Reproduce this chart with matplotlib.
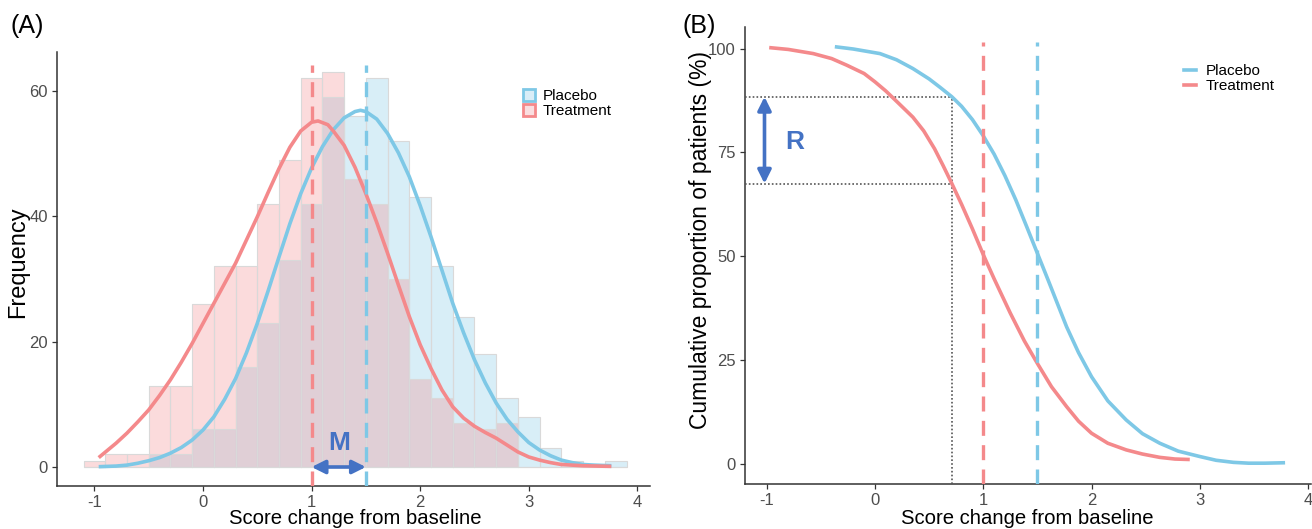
import matplotlib
matplotlib.use("Agg")
import matplotlib.pyplot as plt
from matplotlib.patches import Patch
from matplotlib.lines import Line2D
import numpy as np

plt.rcParams['font.family'] = ['Liberation Sans', 'DejaVu Sans']
plt.rcParams['axes.unicode_minus'] = False

# ---------------- data ----------------
bin_left = [-1.1, -0.9, -0.7, -0.5, -0.3, -0.1, 0.1, 0.3, 0.5, 0.7, 0.9, 1.1, 1.3,
            1.5, 1.7, 1.9, 2.1, 2.3, 2.5, 2.7, 2.9, 3.1, 3.3, 3.5, 3.7]
bin_width = 0.2
placebo_counts = [0, 0, 0, 2, 2, 6, 6, 16, 23, 33, 42, 59, 56,
                  62, 52, 43, 32, 24, 18, 11, 8, 3, 1, 0, 1]
treatment_counts = [1, 2, 2, 13, 13, 26, 32, 32, 42, 49, 62, 63, 46,
                    42, 30, 14, 11, 7, 6, 7, 0, 0, 0, 0, 0]

# density curves (scaled to counts)
kde_x_treat = [-0.96, -0.8, -0.7, -0.6, -0.5, -0.4, -0.3, -0.2, -0.1, 0.0, 0.1, 0.2,
               0.3, 0.4, 0.5, 0.6, 0.7, 0.8, 0.9, 1.0, 1.06, 1.15, 1.2, 1.3, 1.4,
               1.5, 1.6, 1.7, 1.8, 1.9, 2.0, 2.1, 2.2, 2.3, 2.4, 2.5, 2.6, 2.7,
               2.8, 2.9, 3.0, 3.1, 3.2, 3.3, 3.5, 3.76]
kde_y_treat = [1.5, 3.8, 5.4, 7.2, 9.1, 11.4, 13.9, 16.7, 19.7, 22.9, 26.1, 29.3,
               32.5, 36.2, 39.9, 43.8, 47.6, 51.0, 53.6, 55.0, 55.2, 54.6, 53.6,
               51.3, 47.8, 43.6, 39.0, 34.1, 29.0, 24.0, 19.5, 15.7, 12.3, 9.6,
               7.8, 6.5, 5.5, 4.6, 3.5, 2.4, 1.6, 1.1, 0.7, 0.4, 0.2, 0.1]
kde_x_plac = [-0.96, -0.8, -0.7, -0.6, -0.5, -0.4, -0.3, -0.2, -0.1, 0.0, 0.1, 0.2,
              0.3, 0.4, 0.5, 0.6, 0.7, 0.8, 0.9, 1.0, 1.1, 1.2, 1.3, 1.4, 1.45,
              1.5, 1.6, 1.7, 1.8, 1.9, 2.0, 2.1, 2.2, 2.3, 2.4, 2.5, 2.6, 2.7,
              2.8, 2.9, 3.0, 3.1, 3.2, 3.3, 3.4, 3.5, 3.6, 3.76]
kde_y_plac = [0.05, 0.15, 0.3, 0.6, 1.0, 1.5, 2.2, 3.1, 4.3, 5.9, 8.0, 10.8,
              14.1, 18.2, 22.9, 28.1, 33.5, 38.8, 43.6, 47.7, 51.1, 53.8, 55.7,
              56.7, 56.9, 56.7, 55.5, 53.2, 50.1, 46.3, 41.7, 36.7, 31.4, 26.1,
              21.4, 17.1, 13.4, 10.2, 7.6, 5.6, 3.9, 2.7, 1.8, 1.1, 0.7, 0.4,
              0.3, 0.2]

# cumulative proportion curves (% of patients with score >= x)
cum_x_treat = [-0.96, -0.8, -0.57, -0.4, -0.26, -0.1, 0.0, 0.1, 0.2, 0.35, 0.45,
               0.55, 0.63, 0.71, 0.8, 0.9, 1.0, 1.1, 1.25, 1.38, 1.5, 1.63, 1.77,
               1.88, 2.0, 2.15, 2.32, 2.47, 2.63, 2.77, 2.89]
cum_y_treat = [100.2, 99.8, 98.8, 97.6, 96.0, 94.0, 92.0, 89.8, 87.3, 83.5, 80.2,
               75.9, 71.8, 67.5, 62.5, 56.6, 50.4, 44.6, 36.3, 29.6, 24.2, 18.6,
               13.8, 10.3, 7.4, 5.0, 3.4, 2.4, 1.6, 1.2, 1.1]
cum_x_plac = [-0.354, -0.2, 0.046, 0.2, 0.35, 0.5, 0.6, 0.71, 0.8, 0.9, 1.0, 1.1,
              1.2, 1.3, 1.4, 1.5, 1.6, 1.7, 1.77, 1.88, 2.0, 2.15, 2.32, 2.47,
              2.63, 2.8, 3.0, 3.15, 3.31, 3.45, 3.6, 3.77]
cum_y_plac = [100.4, 99.9, 98.8, 97.3, 95.2, 92.7, 90.7, 88.4, 86.1, 82.9, 79.0,
              74.6, 69.4, 63.6, 57.2, 50.7, 44.2, 37.6, 33.0, 26.8, 21.0, 15.2,
              10.6, 7.3, 5.0, 3.1, 1.8, 0.9, 0.4, 0.2, 0.2, 0.3]

median_treat = 1.0
median_plac = 1.5
r_x = 0.71
r_upper = 88.4
r_lower = 67.5

groups = ['Placebo', 'Treatment']
col_plac = '#7EC8E6'
col_treat = '#F4898B'
arrow_col = '#4472C4'
tick_col = '#4D4D4D'

# ---------------- figure ----------------
fig = plt.figure(figsize=(13.12, 5.29), dpi=100)
W, H = 1312, 529

def rect(l, r, b, t):
    return [l / W, 1 - b / H, (r - l) / W, (b - t) / H]

axA = fig.add_axes(rect(57, 650, 486, 52))
axB = fig.add_axes(rect(745, 1311, 484, 27))

for ax in (axA, axB):
    for s in ('top', 'right'):
        ax.spines[s].set_visible(False)
    for s in ('left', 'bottom'):
        ax.spines[s].set_color('#333333')
        ax.spines[s].set_linewidth(1.1)
    ax.tick_params(colors='#333333', labelcolor=tick_col, labelsize=12,
                   length=3.5, width=0.9, pad=3)

# ---- panel A ----
edges = np.array(bin_left)
axA.bar(edges, placebo_counts, width=bin_width, align='edge',
        color=col_plac, alpha=0.3, edgecolor='none', zorder=1)
axA.bar(edges, treatment_counts, width=bin_width, align='edge',
        color=col_treat, alpha=0.3, edgecolor='none', zorder=2)
axA.bar(edges, placebo_counts, width=bin_width, align='edge',
        fill=False, edgecolor='#D9D9D9', linewidth=0.8, zorder=3)
axA.bar(edges, treatment_counts, width=bin_width, align='edge',
        fill=False, edgecolor='#D9D9D9', linewidth=0.8, zorder=3)

axA.plot(kde_x_plac, kde_y_plac, color=col_plac, lw=2.6, zorder=5,
         solid_capstyle='butt', solid_joinstyle='round')
axA.plot(kde_x_treat, kde_y_treat, color=col_treat, lw=2.6, zorder=5,
         solid_capstyle='butt', solid_joinstyle='round')

axA.set_xlim(-1.344, 4.116)
axA.set_ylim(-3.03, 66.2)
axA.vlines([median_treat], -3.03, 64.2, colors=col_treat, lw=2.4,
           linestyles=(0, (4.5, 2.8)), zorder=6)
axA.vlines([median_plac], -3.03, 64.2, colors=col_plac, lw=2.4,
           linestyles=(0, (4.5, 2.8)), zorder=6)
axA.set_xticks([-1, 0, 1, 2, 3, 4])
axA.set_yticks([0, 20, 40, 60])

axA.annotate('', xy=(median_treat, 0), xytext=(median_plac, 0),
             arrowprops=dict(arrowstyle='<|-|>', color=arrow_col, lw=2.6,
                             mutation_scale=20, shrinkA=0, shrinkB=0), zorder=7)
axA.text((median_treat + median_plac) / 2, 3.8, 'M', color=arrow_col,
         fontsize=19, fontweight='bold', ha='center', va='center', zorder=7)

legA = [Patch(facecolor=(0.85, 0.93, 0.97), edgecolor=col_plac, lw=2, label=groups[0]),
        Patch(facecolor=(0.98, 0.87, 0.88), edgecolor=col_treat, lw=2, label=groups[1])]
axA.legend(handles=legA, loc='upper left', bbox_to_anchor=(0.785, 0.915),
           frameon=False, fontsize=11, handlelength=0.85, handleheight=0.85,
           handletextpad=0.45, labelspacing=0.05, borderpad=0, borderaxespad=0)

# ---- panel B ----
axB.plot(cum_x_plac, cum_y_plac, color=col_plac, lw=2.6, zorder=5,
         solid_joinstyle='round')
axB.plot(cum_x_treat, cum_y_treat, color=col_treat, lw=2.6, zorder=5,
         solid_joinstyle='round')
axB.set_xlim(-1.20, 4.026)
axB.set_ylim(-4.81, 105.2)
axB.vlines([median_treat], -4.81, 101.6, colors=col_treat, lw=2.4,
           linestyles=(0, (4.5, 2.8)), zorder=6)
axB.vlines([median_plac], -4.81, 101.6, colors=col_plac, lw=2.4,
           linestyles=(0, (4.5, 2.8)), zorder=6)
axB.hlines([r_upper, r_lower], -1.20, r_x, colors='#555555', lw=1.2,
           linestyles=(0, (1, 1.3)), zorder=4)
axB.vlines([r_x], -4.81, r_upper, colors='#555555', lw=1.2,
           linestyles=(0, (1, 1.3)), zorder=4)
axB.set_xticks([-1, 0, 1, 2, 3, 4])
axB.set_yticks([0, 25, 50, 75, 100])

axB.annotate('', xy=(-1.02, r_upper), xytext=(-1.02, r_lower),
             arrowprops=dict(arrowstyle='<|-|>', color=arrow_col, lw=2.6,
                             mutation_scale=20, shrinkA=0, shrinkB=0), zorder=7)
axB.text(-0.74, 77.5, 'R', color=arrow_col, fontsize=19, fontweight='bold',
         ha='center', va='center', zorder=7)

legB = [Line2D([0], [0], color=col_plac, lw=2.6, label=groups[0]),
        Line2D([0], [0], color=col_treat, lw=2.6, label=groups[1])]
axB.legend(handles=legB, loc='upper left', bbox_to_anchor=(0.776, 0.918),
           frameon=False, fontsize=11, handlelength=0.8,
           handletextpad=0.6, labelspacing=0.05, borderpad=0, borderaxespad=0)

# ---- labels ----
fig.text(355 / W, 1 - 518 / H, 'Score change from baseline', ha='center',
         va='center', fontsize=14.6, color='black')
fig.text(1027 / W, 1 - 518 / H, 'Score change from baseline', ha='center',
         va='center', fontsize=14.6, color='black')
fig.text(18 / W, 1 - 262 / H, 'Frequency', ha='center', va='center',
         rotation=90, fontsize=17)
fig.text(700 / W, 1 - 240 / H, 'Cumulative proportion of patients (%)',
         ha='center', va='center', rotation=90, fontsize=16.5)
fig.text(10 / W, 1 - 26 / H, '(A)', ha='left', va='center', fontsize=18)
fig.text(682 / W, 1 - 26 / H, '(B)', ha='left', va='center', fontsize=18)

fig.savefig('out.png', dpi=100)
